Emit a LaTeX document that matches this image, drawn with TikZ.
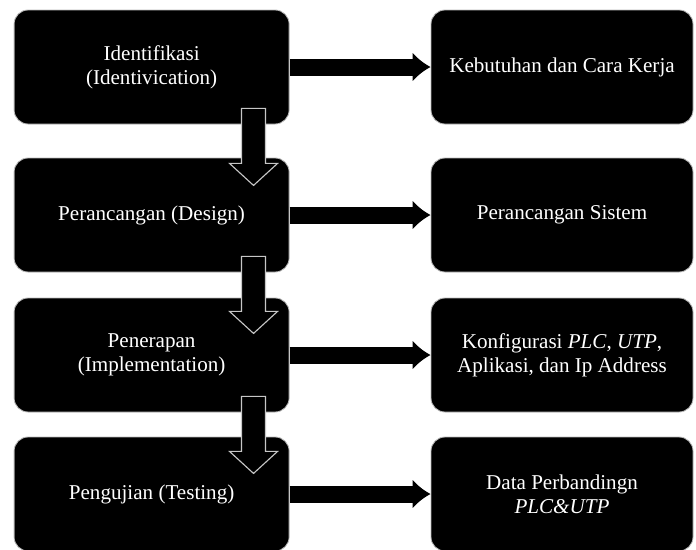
\documentclass[tikz,border=0pt]{standalone}
\usepackage{fontspec}
\setmainfont{Liberation Serif}
\usetikzlibrary{arrows.meta,calc}

\begin{document}
\begin{tikzpicture}[
    font=\fontsize{15}{17}\selectfont,
    stage/.style={
        rounded corners=3.5mm,
        minimum width=68.75mm,
        minimum height=28.5mm,
        align=center,
        fill=black,
        draw=gray!55,
        line width=0.6pt,
        text=white
    },
    result/.style={stage, minimum width=65.5mm},
    flow/.style={-{Latex[length=4.5mm,width=7.5mm]}, line width=4.25mm},
    blockarrow/.style={fill=black, draw=gray!45, line width=0.8pt}
]
\useasboundingbox (0,0) rectangle (17.4,13.725);

% Method stages (left column)
\node[stage] (ident) at (3.79,12.05) {Identifikasi\\(Identivication)};
\node[stage] (design) at (3.79,8.35) {Perancangan (Design)};
\node[stage] (impl) at (3.79,4.85) {Penerapan\\(Implementation)};
\node[stage] (test) at (3.79,1.375) {Pengujian (Testing)};

% Outputs of each stage (right column)
\node[result] (needs) at (14.05,12.05) {Kebutuhan dan Cara Kerja};
\node[result] (system) at (14.05,8.35) {Perancangan Sistem};
\node[result] (config) at (14.05,4.85)
    {Konfigurasi \textit{PLC}, \textit{UTP},\\Aplikasi, dan Ip Address};
\node[result] (compare) at (14.05,1.375)
    {Data Perbandingn\\\textit{PLC\&UTP}};

% Stage to output
\draw[flow] (ident.east) -- (needs.west);
\draw[flow] (design.east) -- (system.west);
\draw[flow] (impl.east) -- (config.west);
\draw[flow] (test.east) -- (compare.west);

% Block arrows from one stage down to the next
\foreach \a in {ident, design, impl} {
    \draw[blockarrow] ($(\a.south east)+(-1.2,0.4)$)
        -- ++(0,-1.375) -- ++(-0.3,0) -- ++(0.6,-0.55)
        -- ++(0.6,0.55) -- ++(-0.3,0) -- ++(0,1.375) -- cycle;
}

\end{tikzpicture}
\end{document}
